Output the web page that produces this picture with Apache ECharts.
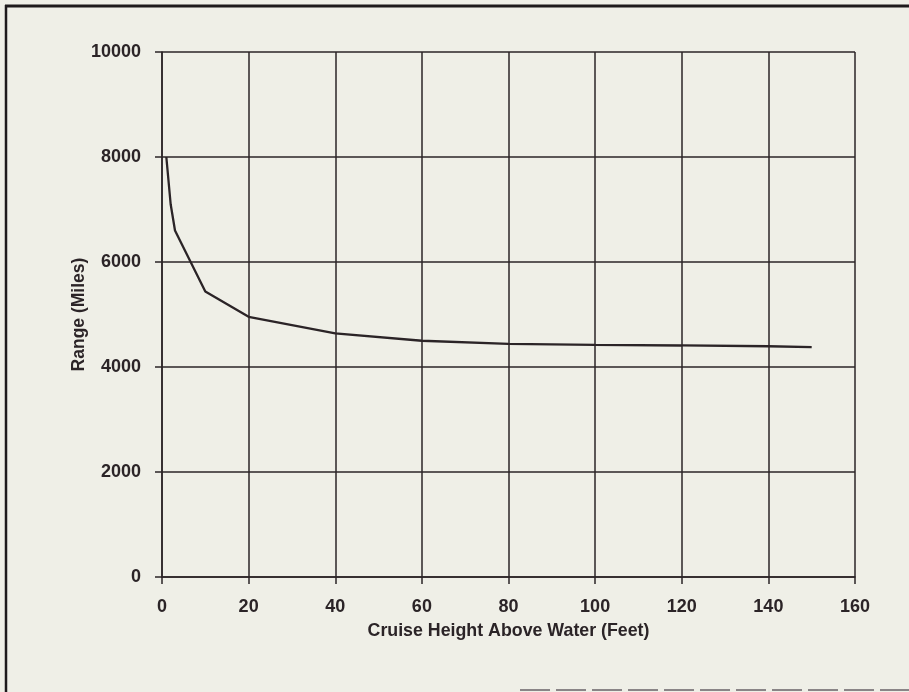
<!DOCTYPE html>
<html>
<head>
<meta charset="utf-8">
<script src="https://cdn.jsdelivr.net/npm/echarts@6/dist/echarts.min.js"></script>
<style>
  html, body { margin: 0; padding: 0; background: #efefe7; }
  #chart { width: 909px; height: 692px; }
</style>
</head>
<body>
<div id="chart"></div>
<script>
// Cruise height above water (feet) and the resulting range (miles)
const heightFeet = [1, 2, 3, 10, 20, 40, 60, 80, 100, 120, 140, 150];
const rangeMiles = [8000, 7100, 6600, 5440, 4955, 4640, 4500, 4440, 4420, 4410, 4395, 4380];

const xTicks = [0, 20, 40, 60, 80, 100, 120, 140, 160];
const yTicks = [0, 2000, 4000, 6000, 8000, 10000];

const ink = '#2b2427';
const font = '"Liberation Sans", Arial, sans-serif';

const chart = echarts.init(document.getElementById('chart'));
chart.setOption({
  backgroundColor: '#efefe7',
  animation: false,
  grid: { left: 162, right: 54, top: 52, bottom: 115, containLabel: false },
  xAxis: {
    type: 'value',
    min: xTicks[0],
    max: xTicks[xTicks.length - 1],
    interval: 20,
    name: 'Cruise Height Above Water (Feet)',
    nameLocation: 'middle',
    nameGap: 45,
    nameTextStyle: { fontFamily: font, fontWeight: 'bold', fontSize: 17.8, color: ink },
    axisLine: { show: true, lineStyle: { color: ink, width: 1.5 } },
    axisTick: { show: true, inside: false, length: 7, lineStyle: { color: ink, width: 1.5 } },
    axisLabel: { margin: 21, fontFamily: font, fontWeight: 'bold', fontSize: 18, color: ink,
                 formatter: v => String(v) },
    splitLine: { show: true, lineStyle: { color: ink, width: 1.5 } }
  },
  yAxis: {
    type: 'value',
    min: yTicks[0],
    max: yTicks[yTicks.length - 1],
    interval: 2000,
    name: 'Range (Miles)',
    nameLocation: 'middle',
    nameGap: 74,
    nameMoveOverlap: false,
    nameTextStyle: { fontFamily: font, fontWeight: 'bold', fontSize: 17.5, color: ink },
    axisLine: { show: true, lineStyle: { color: ink, width: 1.5 } },
    axisTick: { show: true, inside: false, length: 7, lineStyle: { color: ink, width: 1.5 } },
    axisLabel: { margin: 21, fontFamily: font, fontWeight: 'bold', fontSize: 18, color: ink,
                 formatter: v => String(v) },
    splitLine: { show: true, lineStyle: { color: ink, width: 1.5 } }
  },
  series: [{
    type: 'line',
    data: heightFeet.map((h, i) => [h, rangeMiles[i]]),
    showSymbol: false,
    smooth: false,
    lineStyle: { color: ink, width: 2.3 },
    z: 5
  }],
  graphic: [
    // outer frame: top and left edges, broken rule along the bottom right
    { type: 'line', shape: { x1: 5, y1: 6, x2: 909, y2: 6 }, style: { stroke: '#1e1a1c', lineWidth: 3 } },
    { type: 'line', shape: { x1: 6, y1: 5, x2: 6, y2: 692 }, style: { stroke: '#1e1a1c', lineWidth: 2.5 } },
    { type: 'line', shape: { x1: 520, y1: 690, x2: 909, y2: 690 }, style: { stroke: '#8a8587', lineWidth: 2, lineDash: [30, 6] } }
  ]
});
</script>
</body>
</html>
